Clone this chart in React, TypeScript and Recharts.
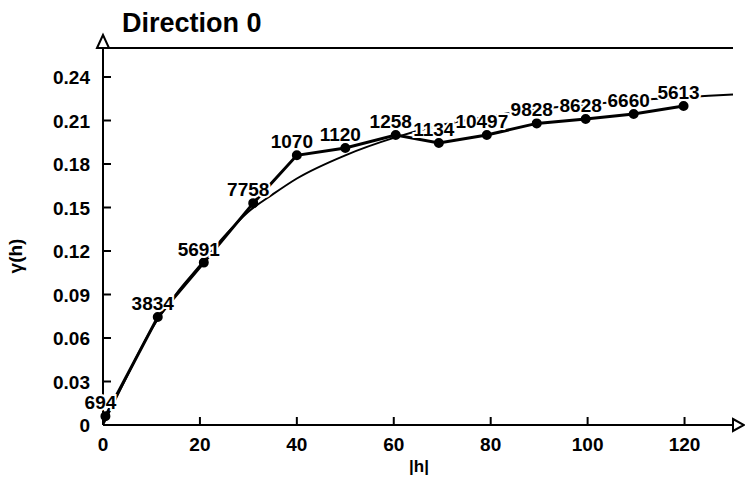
import React from 'react'
import { LineChart, Line, XAxis, YAxis, ReferenceLine, ReferenceDot, LabelList } from 'recharts'

// experimental variogram points (lag, gamma, number of pairs)
const lagPoints = [0.5, 11.3, 20.8, 31, 40, 50, 60.4, 69.3, 79.2, 89.5, 99.6, 109.5, 119.8]
const gammaPoints = [0.006, 0.0745, 0.112, 0.153, 0.186, 0.191, 0.2, 0.1945, 0.2, 0.208, 0.211, 0.2145, 0.22]
const pairCounts = ['694', '3834', '5691', '7758', '1070', '1120', '1258', '1134', '10497', '9828', '8628', '6660', '5613']

// fitted model curve
const modelLag = [0, 5, 10, 15, 20, 25, 30, 35, 40, 50, 60, 70, 80, 90, 100, 110, 120, 130]
const modelGamma = [0, 0.034, 0.066, 0.09, 0.11, 0.13, 0.147, 0.159, 0.17, 0.186, 0.198, 0.207, 0.213, 0.218, 0.221, 0.224, 0.226, 0.228]

const xTicks = [0, 20, 40, 60, 80, 100, 120]
const yTicks = [0, 0.03, 0.06, 0.09, 0.12, 0.15, 0.18, 0.21, 0.24]

const W = 745
const H = 478
const PLOT_LEFT = 103
const AXIS_Y = 425
const FONT = '"Liberation Sans", Arial, sans-serif'

const expData = lagPoints.map((lag, i) => ({ lag, gamma: gammaPoints[i], n: pairCounts[i] }))
const modelData = modelLag.map((lag, i) => ({ lag, model: modelGamma[i] }))

function YTick({ y, payload }: any) {
  const v = payload.value
  return (
    <g>
      <line x1={PLOT_LEFT} x2={PLOT_LEFT + 8} y1={y} y2={y} stroke="#000" strokeWidth={2} />
      <text x={PLOT_LEFT - 13} y={y + 7} textAnchor="end" fontFamily={FONT} fontWeight="bold" fontSize={19} fill="#000">
        {v === 0 ? '0' : v.toFixed(2)}
      </text>
    </g>
  )
}

function XTick({ x, payload }: any) {
  return (
    <g>
      <line x1={x} x2={x} y1={AXIS_Y} y2={AXIS_Y - 8} stroke="#000" strokeWidth={2} />
      <text x={x} y={AXIS_Y + 26} textAnchor="middle" fontFamily={FONT} fontWeight="bold" fontSize={19} fill="#000">
        {payload.value}
      </text>
    </g>
  )
}

function PairLabel({ x, y, value }: any) {
  return (
    <text
      x={x - 5}
      y={y - 7}
      textAnchor="middle"
      fontFamily={FONT}
      fontWeight="bold"
      fontSize={19}
      fill="#000"
      stroke="#fff"
      strokeWidth={4}
      paintOrder="stroke"
    >
      {value}
    </text>
  )
}

export default function App() {
  return (
    <div style={{ position: 'absolute', left: 0, top: 0, width: W, height: H, background: '#fff' }}>
      <div
        style={{
          position: 'absolute',
          left: 122,
          top: 10,
          fontFamily: FONT,
          fontWeight: 'bold',
          fontSize: 27,
          lineHeight: 1,
          color: '#000',
        }}
      >
        Direction 0
      </div>
      <LineChart width={W} height={H} margin={{ top: 48, right: 12, bottom: 0, left: 0 }}>
        <XAxis
          type="number"
          dataKey="lag"
          domain={[0, 130]}
          ticks={xTicks}
          height={53}
          axisLine={{ stroke: '#000', strokeWidth: 2 }}
          tickLine={false}
          tick={<XTick />}
          label={{
            content: () => (
              <text x={419} y={472} textAnchor="middle" fontFamily={FONT} fontWeight="bold" fontSize={17} fill="#000">
                |h|
              </text>
            ),
          }}
        />
        <YAxis
          type="number"
          domain={[0, 0.26]}
          ticks={yTicks}
          width={103}
          allowDataOverflow
          axisLine={{ stroke: '#000', strokeWidth: 2 }}
          tickLine={false}
          tick={<YTick />}
          label={{
            content: () => (
              <text
                x={22}
                y={256}
                transform="rotate(-90, 22, 256)"
                textAnchor="middle"
                fontFamily={FONT}
                fontWeight="bold"
                fontSize={19}
                fill="#000"
              >
                γ(h)
              </text>
            ),
          }}
        />
        <ReferenceLine y={0.26} stroke="#000" strokeWidth={2} ifOverflow="visible" />
        <Line
          data={modelData}
          dataKey="model"
          type="monotone"
          stroke="#000"
          strokeWidth={2}
          dot={false}
          isAnimationActive={false}
        />
        <Line
          data={expData}
          dataKey="gamma"
          type="linear"
          stroke="#000"
          strokeWidth={3}
          dot={{ r: 3.5, fill: '#000', stroke: '#000' }}
          isAnimationActive={false}
        >
          <LabelList dataKey="n" content={<PairLabel />} />
        </Line>
        <ReferenceDot
          x={130}
          y={0}
          ifOverflow="visible"
          shape={(p: any) => (
            <path
              d={`M${p.cx},${p.cy - 6} L${p.cx + 11},${p.cy} L${p.cx},${p.cy + 6} Z`}
              fill="#fff"
              stroke="#000"
              strokeWidth={2}
            />
          )}
        />
        <ReferenceDot
          x={0}
          y={0.26}
          ifOverflow="visible"
          shape={(p: any) => (
            <path
              d={`M${p.cx - 6},${p.cy} L${p.cx},${p.cy - 13} L${p.cx + 6},${p.cy} Z`}
              fill="#fff"
              stroke="#000"
              strokeWidth={2}
            />
          )}
        />
      </LineChart>
    </div>
  )
}
